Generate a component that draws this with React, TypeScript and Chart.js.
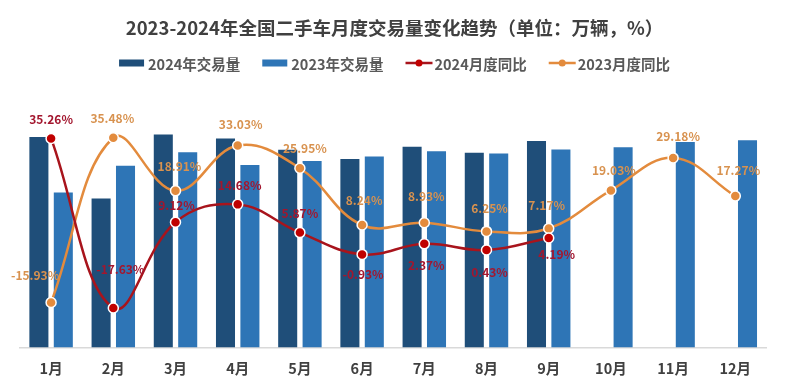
import React, { useEffect, useRef } from "react";
import { Chart, registerables } from "chart.js";

Chart.register(...registerables);

const FONT = "'Noto Sans CJK SC', 'Noto Sans', sans-serif";

const titleText = "2023-2024年全国二手车月度交易量变化趋势（单位：万辆，%）";
const months = ["1月", "2月", "3月", "4月", "5月", "6月", "7月", "8月", "9月", "10月", "11月", "12月"];
const seriesNames = ["2024年交易量", "2023年交易量", "2024月度同比", "2023月度同比"];
const volume2024 = [157.3, 111.3, 159.1, 156.1, 147.8, 140.9, 150.0, 145.5, 154.3, null, null, null];
const volume2023 = [115.9, 135.8, 145.9, 136.4, 139.4, 142.7, 146.7, 145.0, 148.0, 149.7, 153.5, 154.8];
const yoy2024 = [35.26, -17.63, 9.12, 14.68, 5.87, -0.93, 2.37, 0.43, 4.19, null, null, null];
const yoy2023 = [-15.93, 35.48, 18.91, 33.03, 25.95, 8.24, 8.93, 6.25, 7.17, 19.03, 29.18, 17.27];

// label placement (style only)
const labelDx2024 = [0, 7, 1, 2, 0, 1, 2, 3, 8];
const labelDy2024 = [-19, -39, -17, -19, -19, 20, 22, 22, 16];
const labelDx2023 = [-16, -1, 4, 3, 5, 2, 2, 3, -2, 3, 5, 3];
const labelDy2023 = [-27, -19, -24, -21, -20, -25, -26, -23, -23, -20, -21, -26];

const C_BAR24 = "#1F4E79";
const C_BAR23 = "#2E75B6";
const C_LINE24 = "#A8141C";
const C_PT24 = "#C00000";
const C_LINE23 = "#E38B3D";
const C_LBL24 = "#A3162E";
const C_LBL23 = "#D8924F";

const overlayPlugin = {
  id: "overlay",
  afterDatasetsDraw(chart: any) {
    const ctx = chart.ctx;
    ctx.save();
    ctx.font = `bold 12px ${FONT}`;
    ctx.textAlign = "center";
    ctx.textBaseline = "middle";
    const draw = (dsIndex: number, values: (number | null)[], dx: number[], dy: number[], color: string) => {
      const meta = chart.getDatasetMeta(dsIndex);
      meta.data.forEach((pt: any, i: number) => {
        const v = values[i];
        if (v === null || v === undefined) return;
        ctx.fillStyle = color;
        ctx.fillText(v.toFixed(2) + "%", pt.x + (dx[i] || 0), pt.y + (dy[i] || 0));
      });
    };
    draw(1, yoy2023, labelDx2023, labelDy2023, C_LBL23);
    draw(0, yoy2024, labelDx2024, labelDy2024, C_LBL24);
    ctx.restore();
  },
  afterDraw(chart: any) {
    const ctx = chart.ctx;
    const cx = chart.width / 2;
    ctx.save();
    // title
    ctx.font = `bold 18.5px ${FONT}`;
    ctx.fillStyle = "#404040";
    ctx.textAlign = "center";
    ctx.textBaseline = "middle";
    ctx.fillText(titleText, cx, 28);
    // legend
    ctx.font = `bold 14.5px ${FONT}`;
    ctx.textAlign = "left";
    const items = [
      { kind: "box", color: C_BAR24, text: seriesNames[0] },
      { kind: "box", color: C_BAR23, text: seriesNames[1] },
      { kind: "line", color: C_LINE24, dot: C_PT24, text: seriesNames[2] },
      { kind: "line", color: C_LINE23, dot: C_LINE23, text: seriesNames[3] },
    ];
    const symW = (k: string) => (k === "box" ? 25 : 27);
    const symGap = (k: string) => (k === "box" ? 4 : 2);
    const gap = 22;
    let total = 0;
    items.forEach((it, i) => {
      total += symW(it.kind) + symGap(it.kind) + ctx.measureText(it.text).width;
      if (i < items.length - 1) total += gap;
    });
    let x = cx - total / 2;
    const y = 63;
    items.forEach((it) => {
      if (it.kind === "box") {
        ctx.fillStyle = it.color;
        ctx.fillRect(x, y - 3.5, 25, 7);
      } else {
        ctx.strokeStyle = it.color;
        ctx.lineWidth = 2.5;
        ctx.beginPath();
        ctx.moveTo(x, y);
        ctx.lineTo(x + 27, y);
        ctx.stroke();
        ctx.fillStyle = (it as any).dot;
        ctx.beginPath();
        ctx.arc(x + 13.5, y, 3.5, 0, Math.PI * 2);
        ctx.fill();
      }
      x += symW(it.kind) + symGap(it.kind);
      ctx.fillStyle = "#595959";
      ctx.fillText(it.text, x, y + 1);
      x += ctx.measureText(it.text).width + gap;
    });
    ctx.restore();
  },
};

export default function App() {
  const ref = useRef<HTMLCanvasElement | null>(null);
  useEffect(() => {
    if (!ref.current) return;
    const chart = new Chart(ref.current, {
      type: "bar",
      data: {
        labels: months,
        datasets: [
          {
            type: "line",
            label: seriesNames[2],
            data: yoy2024 as any,
            yAxisID: "yLine",
            borderColor: C_LINE24,
            backgroundColor: C_PT24,
            borderWidth: 2.5,
            tension: 0.4,
            pointRadius: 5,
            pointBackgroundColor: C_PT24,
            pointBorderColor: "#ffffff",
            pointBorderWidth: 1.5,
            order: 0,
          } as any,
          {
            type: "line",
            label: seriesNames[3],
            data: yoy2023,
            yAxisID: "yLine",
            borderColor: C_LINE23,
            backgroundColor: C_LINE23,
            borderWidth: 2.5,
            tension: 0.4,
            pointRadius: 5,
            pointBackgroundColor: C_LINE23,
            pointBorderColor: "#ffffff",
            pointBorderWidth: 1.5,
            order: 1,
          } as any,
          {
            type: "bar",
            label: seriesNames[0],
            data: volume2024 as any,
            yAxisID: "yBar",
            backgroundColor: C_BAR24,
            categoryPercentage: 0.785,
            barPercentage: 0.78,
            order: 2,
          } as any,
          {
            type: "bar",
            label: seriesNames[1],
            data: volume2023,
            yAxisID: "yBar",
            backgroundColor: C_BAR23,
            categoryPercentage: 0.785,
            barPercentage: 0.78,
            order: 2,
          } as any,
        ],
      },
      options: {
        responsive: false,
        animation: false,
        layout: { padding: { top: 120, left: 20, right: 22.6, bottom: 2 } },
        plugins: {
          legend: { display: false },
          title: { display: false },
          tooltip: { enabled: false },
        },
        scales: {
          x: {
            grid: { display: false, drawTicks: false },
            border: { display: true, color: "#D9D9D9", width: 1.5 },
            ticks: { color: "#404040", font: { family: FONT, size: 14.5, weight: "bold" }, padding: 12 },
          },
          yBar: { display: false, min: 0, max: 170, position: "left" },
          yLine: { display: false, min: -30, max: 41, position: "right" },
        },
      } as any,
      plugins: [overlayPlugin],
    });
    return () => chart.destroy();
  }, []);
  return (
    <div style={{ position: "fixed", left: 0, top: 0, width: 789, height: 391, background: "#fff" }}>
      <canvas ref={ref} width={789} height={391} style={{ width: 789, height: 391 }} />
    </div>
  );
}
